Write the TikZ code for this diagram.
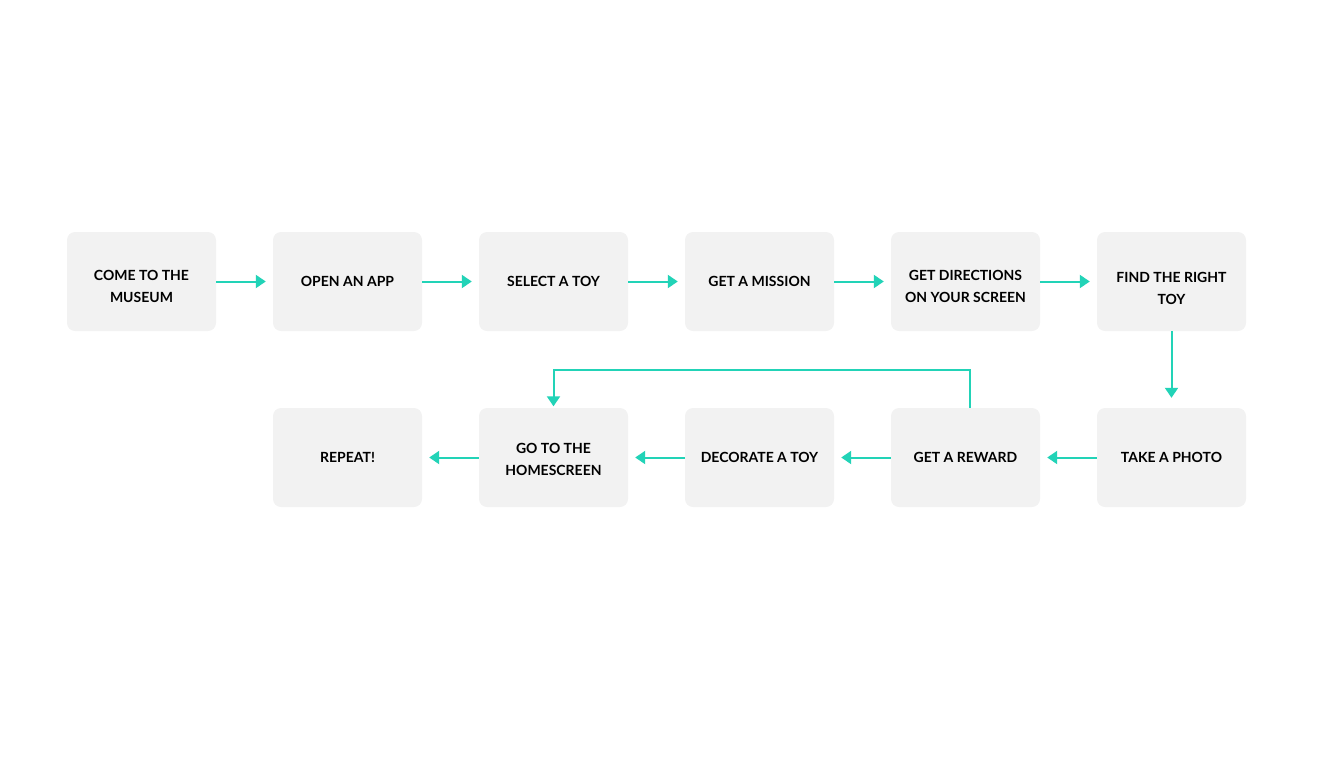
\documentclass[tikz,border=0pt]{standalone}
\usepackage{fontspec}
\setmainfont{Lato}
\usetikzlibrary{arrows.meta}
\definecolor{boxfill}{HTML}{F2F2F2}
\definecolor{flowteal}{HTML}{22D3B7}
\newcommand{\lowerby}[1]{\rule{0pt}{\dimexpr 10.1pt+2\dimexpr #1\relax\relax}}
\begin{document}
\begin{tikzpicture}[x=1pt,y=-1pt,
  stepbox/.style={draw=none, fill=boxfill, rounded corners=8pt, minimum width=149pt, minimum height=99pt, inner sep=0pt, align=center, font=\fontsize{14}{22}\selectfont\bfseries},
  flow/.style={draw=flowteal, line width=2pt, -{Triangle[length=10pt,width=13pt]}, shorten >=7pt}]
\useasboundingbox (0,0) rectangle (1320,780);
\node[stepbox] (a1) at (141.5,281.5) {\lowerby{5pt}COME TO THE\\MUSEUM};
\node[stepbox] (a2) at (347.5,281.5) {OPEN AN APP};
\node[stepbox] (a3) at (553.5,281.5) {SELECT A TOY};
\node[stepbox] (a4) at (759.5,281.5) {GET A MISSION};
\node[stepbox] (a5) at (965.5,281.5) {\lowerby{5pt}GET DIRECTIONS\\ON YOUR SCREEN};
\node[stepbox] (a6) at (1171.5,281.5) {\lowerby{7pt}FIND THE RIGHT\\TOY};
\node[stepbox] (b1) at (347.5,457.5) {REPEAT!};
\node[stepbox] (b2) at (553.5,457.5) {\lowerby{2pt}GO TO THE\\HOMESCREEN};
\node[stepbox] (b3) at (759.5,457.5) {DECORATE A TOY};
\node[stepbox] (b4) at (965.5,457.5) {GET A REWARD};
\node[stepbox] (b5) at (1171.5,457.5) {TAKE A PHOTO};
\draw[flow] (a1.east) -- (a2.west);
\draw[flow] (a2.east) -- (a3.west);
\draw[flow] (a3.east) -- (a4.west);
\draw[flow] (a4.east) -- (a5.west);
\draw[flow] (a5.east) -- (a6.west);
\draw[flow, shorten >=10pt] (a6.south) -- (b5.north);
\draw[flow] (b5.west) -- (b4.east);
\draw[flow] (b4.west) -- (b3.east);
\draw[flow] (b3.west) -- (b2.east);
\draw[flow] (b2.west) -- (b1.east);
\draw[flow, shorten >=1.5pt] ([xshift=4.5pt]b4.north) -- ++(0,-38) -| (b2.north);
\end{tikzpicture}
\end{document}
